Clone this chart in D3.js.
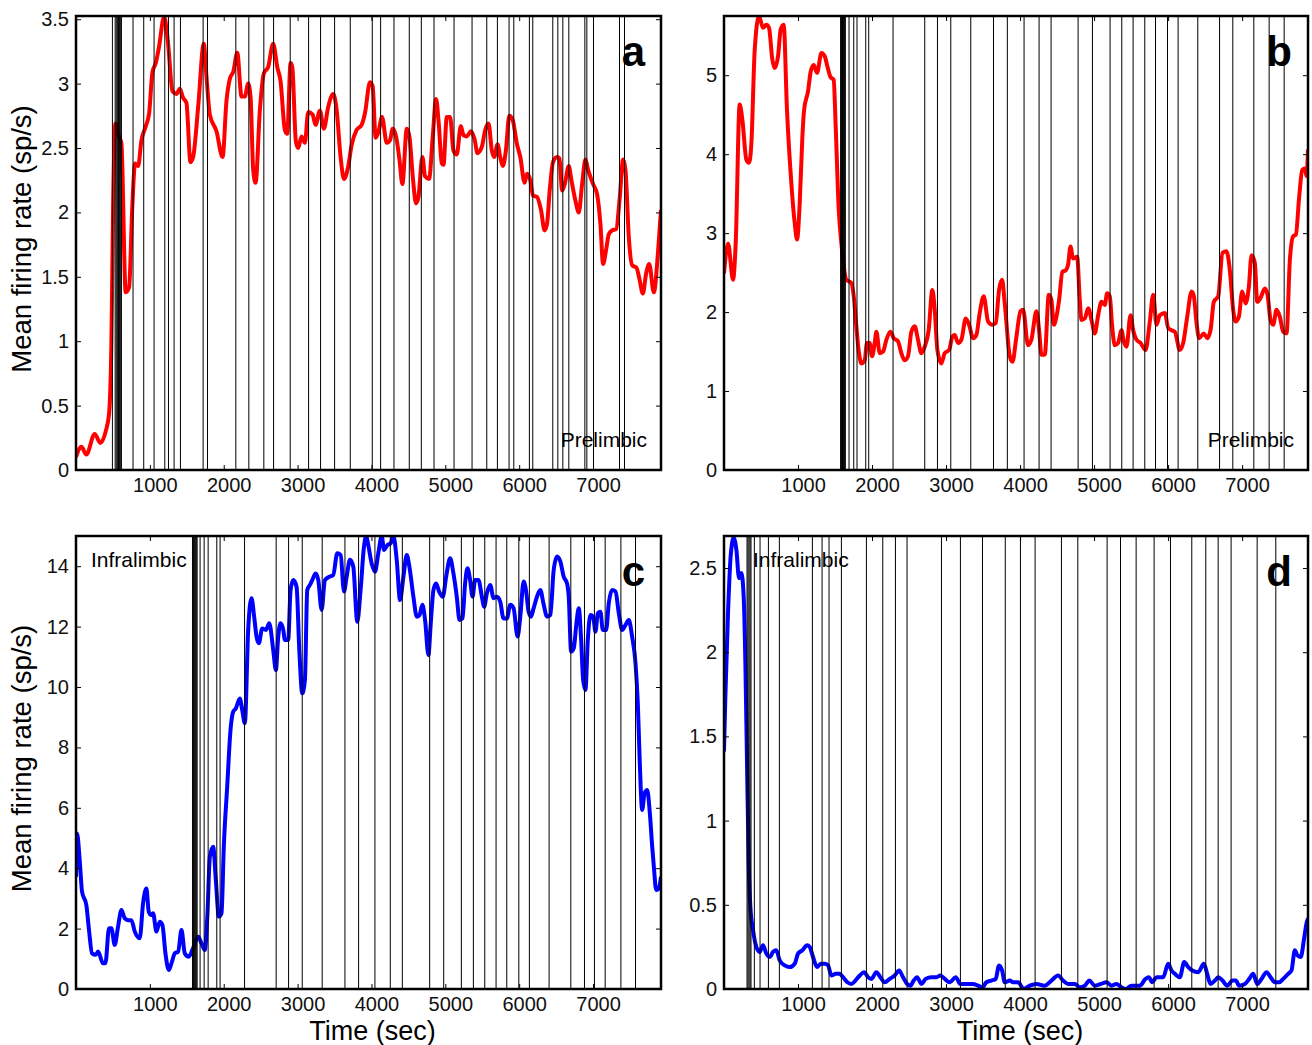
<!DOCTYPE html>
<html>
<head>
<meta charset="utf-8">
<script src="https://cdn.jsdelivr.net/npm/d3@7"></script>
<style>
  body { margin: 0; background: #fff; }
  svg { font-family: "Liberation Sans", Arial, Helvetica, sans-serif; }
</style>
</head>
<body>
<svg id="chart" width="1312" height="1045"></svg>
<script>
// ---- data: [time (sec), mean firing rate (sp/s)] ----
const rateA = [[0,0.10],[73,0.18],[140,0.12],[253,0.28],[330,0.21],[402,0.30],[448,0.44],[479,0.98],[502,2.02],[534,2.69],[575,2.60],[614,2.54],[673,1.38],[719,1.42],[764,2.07],[800,2.38],[841,2.36],[886,2.56],[945,2.67],[990,2.77],[1035,3.09],[1080,3.16],[1125,3.29],[1193,3.52],[1247,3.31],[1306,2.94],[1360,2.92],[1405,2.96],[1450,2.89],[1495,2.85],[1550,2.39],[1586,2.43],[1654,2.82],[1730,3.31],[1767,3.05],[1812,2.76],[1902,2.63],[1984,2.43],[2038,2.87],[2084,3.04],[2128,3.09],[2183,3.24],[2241,2.90],[2286,2.90],[2331,3.00],[2363,2.90],[2399,2.33],[2431,2.23],[2490,2.80],[2543,3.08],[2602,3.13],[2670,3.31],[2724,3.13],[2769,3.02],[2828,2.64],[2860,2.61],[2905,3.16],[2928,3.13],[2977,2.55],[3009,2.50],[3054,2.59],[3099,2.54],[3144,2.78],[3203,2.76],[3243,2.68],[3302,2.79],[3356,2.65],[3415,2.82],[3483,2.92],[3528,2.80],[3582,2.43],[3628,2.26],[3686,2.36],[3731,2.52],[3799,2.64],[3867,2.68],[3912,2.77],[3980,3.01],[4016,2.98],[4057,2.58],[4093,2.62],[4143,2.74],[4207,2.54],[4251,2.56],[4288,2.65],[4333,2.59],[4379,2.41],[4419,2.22],[4478,2.65],[4514,2.59],[4559,2.28],[4604,2.07],[4636,2.12],[4690,2.43],[4726,2.28],[4780,2.26],[4830,2.59],[4875,2.88],[4911,2.69],[4952,2.38],[4975,2.37],[5020,2.74],[5065,2.74],[5110,2.48],[5155,2.45],[5210,2.67],[5246,2.60],[5291,2.59],[5345,2.63],[5395,2.57],[5436,2.46],[5495,2.51],[5540,2.64],[5585,2.69],[5630,2.48],[5662,2.43],[5707,2.53],[5743,2.43],[5779,2.36],[5820,2.48],[5866,2.75],[5911,2.72],[5970,2.53],[6015,2.43],[6074,2.23],[6105,2.30],[6151,2.25],[6187,2.13],[6241,2.12],[6295,2.02],[6345,1.86],[6377,1.91],[6413,2.17],[6458,2.39],[6513,2.43],[6545,2.42],[6581,2.17],[6617,2.22],[6671,2.36],[6707,2.25],[6762,2.09],[6807,2.00],[6852,2.22],[6897,2.41],[6933,2.33],[7001,2.22],[7055,2.14],[7100,1.91],[7136,1.60],[7177,1.71],[7213,1.83],[7258,1.86],[7313,1.87],[7362,2.12],[7407,2.41],[7439,2.33],[7484,1.81],[7529,1.59],[7588,1.57],[7629,1.48],[7674,1.37],[7720,1.53],[7760,1.60],[7823,1.38],[7882,1.71],[7920,2.02]];

const rateB = [[0,2.49],[55,2.87],[122,2.41],[158,2.87],[212,4.63],[248,4.44],[302,3.93],[338,3.89],[370,4.14],[415,5.32],[473,5.75],[527,5.60],[572,5.64],[608,5.60],[653,5.20],[685,5.09],[730,5.24],[766,5.58],[806,5.64],[851,4.56],[910,3.63],[955,3.13],[987,2.92],[1023,3.38],[1059,4.22],[1082,4.56],[1136,4.80],[1172,5.05],[1212,5.13],[1257,5.03],[1316,5.28],[1361,5.24],[1397,5.11],[1437,4.98],[1482,4.94],[1509,4.35],[1550,3.30],[1586,2.87],[1653,2.41],[1721,2.37],[1753,2.20],[1788,1.82],[1824,1.48],[1856,1.35],[1901,1.39],[1932,1.61],[1968,1.61],[2000,1.44],[2036,1.61],[2059,1.75],[2104,1.48],[2149,1.50],[2194,1.65],[2248,1.75],[2293,1.67],[2351,1.63],[2396,1.48],[2441,1.39],[2486,1.44],[2531,1.75],[2576,1.82],[2621,1.65],[2666,1.48],[2711,1.56],[2765,1.77],[2815,2.28],[2847,2.03],[2883,1.52],[2937,1.35],[2982,1.48],[3041,1.52],[3086,1.69],[3117,1.71],[3162,1.61],[3207,1.65],[3266,1.92],[3311,1.84],[3365,1.67],[3410,1.71],[3455,1.99],[3509,2.20],[3568,1.88],[3626,1.84],[3671,1.86],[3716,2.28],[3757,2.41],[3793,2.11],[3861,1.44],[3897,1.37],[3951,1.69],[4005,2.01],[4041,2.03],[4108,1.58],[4153,1.65],[4221,2.01],[4257,1.77],[4289,1.46],[4334,1.46],[4388,2.22],[4424,2.15],[4455,1.84],[4491,1.94],[4527,2.15],[4572,2.51],[4618,2.53],[4649,2.60],[4681,2.83],[4717,2.68],[4771,2.70],[4807,2.15],[4830,1.90],[4875,1.92],[4920,2.05],[4965,1.90],[5010,1.73],[5055,1.96],[5100,2.13],[5145,2.09],[5176,2.24],[5212,2.20],[5244,1.82],[5280,1.58],[5325,1.61],[5370,1.77],[5402,1.63],[5438,1.56],[5492,1.96],[5528,1.77],[5573,1.65],[5627,1.61],[5695,1.52],[5753,1.88],[5798,2.22],[5843,1.84],[5888,1.96],[5956,1.99],[6001,1.80],[6046,1.77],[6091,1.75],[6159,1.52],[6204,1.61],[6258,1.94],[6317,2.26],[6348,2.20],[6384,1.86],[6420,1.67],[6483,1.73],[6528,1.67],[6573,1.77],[6618,2.13],[6677,2.20],[6735,2.75],[6789,2.77],[6834,2.53],[6879,2.03],[6911,1.88],[6956,1.94],[7001,2.26],[7046,2.11],[7091,2.32],[7127,2.72],[7172,2.62],[7204,2.13],[7249,2.18],[7307,2.30],[7343,2.22],[7384,1.90],[7420,1.84],[7465,2.03],[7510,1.94],[7555,1.75],[7600,1.73],[7645,2.66],[7690,2.96],[7726,2.98],[7771,3.46],[7812,3.80],[7848,3.82],[7870,3.72],[7890,4.06]];

const rateC = [[0,3.72],[14,5.15],[50,4.27],[82,3.22],[140,2.78],[176,1.95],[217,1.18],[267,1.13],[298,1.24],[366,0.85],[398,0.85],[447,2.01],[479,2.01],[524,1.46],[569,2.06],[615,2.62],[660,2.34],[705,2.28],[750,2.28],[796,1.90],[863,1.68],[908,2.84],[953,3.33],[985,2.56],[1021,2.45],[1044,2.51],[1089,1.90],[1134,2.23],[1170,2.12],[1211,1.18],[1256,0.63],[1292,0.85],[1337,1.18],[1383,1.24],[1428,1.95],[1473,1.18],[1527,1.07],[1577,1.30],[1654,1.73],[1699,1.51],[1744,1.29],[1780,2.51],[1812,4.38],[1857,4.71],[1893,3.61],[1934,2.40],[1970,2.51],[2001,4.71],[2047,6.70],[2092,8.58],[2128,9.18],[2164,9.29],[2218,9.62],[2250,9.24],[2286,8.80],[2331,11.89],[2376,12.94],[2412,12.33],[2444,11.67],[2476,11.45],[2521,11.94],[2571,11.89],[2616,12.11],[2670,11.23],[2706,10.56],[2738,11.67],[2769,12.11],[2806,11.89],[2828,11.56],[2873,11.56],[2905,13.21],[2941,13.54],[2986,13.32],[3023,11.23],[3063,9.79],[3099,10.23],[3131,13.21],[3167,13.38],[3199,13.54],[3244,13.76],[3280,13.54],[3325,12.55],[3370,13.54],[3429,13.65],[3483,13.71],[3537,14.43],[3583,14.37],[3628,13.16],[3664,13.65],[3709,14.21],[3754,13.98],[3808,12.16],[3853,13.21],[3899,14.65],[3930,15.0],[3957,14.70],[4003,14.09],[4048,13.82],[4093,14.43],[4139,15.0],[4170,14.54],[4216,14.70],[4261,14.76],[4297,15.0],[4342,14.21],[4387,12.88],[4433,13.65],[4478,14.37],[4514,13.98],[4568,12.99],[4614,12.33],[4650,12.38],[4690,12.72],[4726,12.22],[4771,11.06],[4803,12.11],[4839,13.21],[4875,13.43],[4916,13.16],[4966,12.99],[5011,13.65],[5065,14.26],[5110,13.76],[5155,12.99],[5192,12.22],[5232,12.27],[5268,13.43],[5300,13.93],[5336,13.54],[5368,12.99],[5404,13.54],[5449,13.54],[5495,12.99],[5526,12.66],[5562,13.10],[5608,13.38],[5653,12.94],[5698,12.99],[5743,12.83],[5788,12.27],[5834,12.27],[5879,12.72],[5924,12.61],[5978,11.67],[6015,12.33],[6060,13.49],[6092,13.21],[6128,12.49],[6160,12.33],[6196,12.61],[6241,12.99],[6286,13.21],[6332,12.72],[6377,12.33],[6422,12.38],[6467,13.87],[6513,14.32],[6558,14.15],[6603,13.65],[6648,13.43],[6671,12.99],[6703,11.17],[6739,11.28],[6775,12.11],[6807,12.61],[6839,11.56],[6866,10.23],[6897,9.90],[6929,11.56],[6965,12.38],[7001,12.33],[7033,11.83],[7064,12.44],[7100,12.49],[7132,11.89],[7177,11.89],[7213,12.77],[7258,13.21],[7304,13.16],[7349,12.44],[7394,11.89],[7439,12.05],[7484,12.22],[7529,11.67],[7575,10.78],[7606,9.46],[7633,7.47],[7665,5.93],[7697,6.48],[7733,6.59],[7769,5.82],[7801,4.71],[7823,4.05],[7855,3.28],[7891,3.33],[7920,3.72]];

const rateD = [[0,1.41],[18,1.73],[54,2.23],[90,2.57],[131,2.68],[167,2.61],[203,2.44],[235,2.47],[266,2.33],[289,1.93],[311,1.34],[334,0.75],[356,0.49],[392,0.35],[437,0.25],[482,0.22],[527,0.26],[572,0.21],[617,0.19],[662,0.22],[707,0.23],[752,0.17],[820,0.14],[887,0.13],[955,0.15],[1000,0.21],[1059,0.23],[1122,0.26],[1158,0.25],[1203,0.19],[1257,0.13],[1307,0.15],[1361,0.15],[1406,0.14],[1451,0.08],[1509,0.09],[1563,0.09],[1608,0.07],[1667,0.04],[1721,0.03],[1775,0.05],[1834,0.08],[1892,0.10],[1946,0.07],[1991,0.06],[2059,0.10],[2113,0.07],[2171,0.04],[2239,0.06],[2306,0.08],[2365,0.11],[2419,0.07],[2473,0.03],[2518,0.02],[2563,0.05],[2608,0.07],[2667,0.03],[2725,0.06],[2802,0.07],[2869,0.07],[2923,0.08],[2982,0.06],[3050,0.04],[3131,0.07],[3194,0.03],[3275,0.03],[3365,0.03],[3432,0.02],[3491,0.01],[3545,0.04],[3613,0.05],[3671,0.06],[3716,0.14],[3757,0.11],[3793,0.04],[3860,0.05],[3906,0.04],[3973,0.04],[4050,0.00],[4131,0.02],[4221,0.03],[4334,0.02],[4424,0.05],[4514,0.08],[4582,0.05],[4649,0.03],[4739,0.03],[4807,0.01],[4875,0.02],[4934,0.05],[5010,0.02],[5091,0.03],[5167,0.04],[5235,0.02],[5302,0.03],[5370,0.01],[5429,0.00],[5505,0.02],[5618,0.02],[5695,0.06],[5740,0.07],[5785,0.04],[5843,0.07],[5933,0.07],[6001,0.15],[6046,0.11],[6091,0.09],[6159,0.07],[6217,0.16],[6272,0.13],[6326,0.11],[6407,0.10],[6483,0.15],[6528,0.09],[6573,0.03],[6632,0.05],[6677,0.07],[6735,0.05],[6798,0.02],[6870,0.05],[6915,0.05],[6960,0.02],[7037,0.03],[7096,0.06],[7150,0.09],[7204,0.03],[7262,0.06],[7330,0.10],[7384,0.07],[7443,0.04],[7501,0.04],[7555,0.06],[7622,0.09],[7667,0.11],[7712,0.23],[7748,0.20],[7793,0.19],[7834,0.29],[7870,0.39],[7890,0.42]];

// event times (sec) drawn as vertical lines
const eventsA = [493,530,545,560,575,590,605,615,772,917,1057,1202,1252,1328,1414,1721,1780,2164,2340,2543,2675,2900,3149,3311,3501,3713,4011,4124,4305,4512,4675,4847,5118,5362,5561,5705,5863,5927,6138,6184,6455,6523,6591,6672,6889,6916,7006,7358,7426];
const eventsB = [1575,1588,1601,1614,1627,1640,1689,1753,1797,1915,1955,2284,2712,2884,3064,3334,3641,3828,4054,4257,4419,4784,4978,5216,5374,5527,5685,5830,5992,6135,6401,6695,6874,7158,7365,7568];
const eventsC = [1577,1590,1603,1616,1629,1640,1680,1735,1789,1906,1951,2282,2710,2878,3063,3333,3641,3826,4047,4255,4418,4788,4978,5217,5380,5534,5687,5832,5995,6138,6405,6699,6884,7019,7164,7377,7575];
const eventsD = [311,324,338,352,365,410,487,600,748,1194,1325,1419,1586,1924,2145,2316,2473,2938,3194,3492,3800,4005,4203,4559,4780,5176,5357,5568,5811,6032,6320,6509,6676,6851,7203,7455];

// tick values
const xTicks = [1000, 2000, 3000, 4000, 5000, 6000, 7000];
const yTicksA = [0, 0.5, 1, 1.5, 2, 2.5, 3, 3.5];
const yTicksB = [0, 1, 2, 3, 4, 5];
const yTicksC = [0, 2, 4, 6, 8, 10, 12, 14];
const yTicksD = [0, 0.5, 1, 1.5, 2, 2.5];

// panel texts
const panelLetters = ["a", "b", "c", "d"];
const regionNames = ["Prelimbic", "Prelimbic", "Infralimbic", "Infralimbic"];
const yLabel = "Mean firing rate (sp/s)";
const xLabel = "Time (sec)";

function getConfig() {
  // layout of the four panels (pixels)
  let panels = [
    {left: 76,  top: 16,  width: 585, height: 454, xMax: 7920, yMax: 3.525, data: rateA, events: eventsA, yTicks: yTicksA, color: "#ff0000", regionAt: "bottomRight", ylab: true,  xlab: false},
    {left: 724, top: 16,  width: 584, height: 454, xMax: 7890, yMax: 5.75,  data: rateB, events: eventsB, yTicks: yTicksB, color: "#ff0000", regionAt: "bottomRight", ylab: false, xlab: false},
    {left: 76,  top: 536, width: 585, height: 453, xMax: 7920, yMax: 15,    data: rateC, events: eventsC, yTicks: yTicksC, color: "#0000ff", regionAt: "topLeft", regionDx: 15, ylab: true,  xlab: true},
    {left: 724, top: 536, width: 584, height: 453, xMax: 7890, yMax: 2.69,  data: rateD, events: eventsD, yTicks: yTicksD, color: "#0000ff", regionAt: "topLeft", regionDx: 29, ylab: false, xlab: true}
  ];
  let svg = d3.select("#chart");
  return {panels, svg};
}

function getScales(p) {
  let xScale = d3.scaleLinear().domain([0, p.xMax]).range([0, p.width]);
  let yScale = d3.scaleLinear().domain([0, p.yMax]).range([p.height, 0]);
  return {xScale, yScale};
}

function drawPanel(svg, p, i) {
  let {xScale, yScale} = getScales(p);
  let g = svg.append("g").attr("transform", "translate(" + p.left + "," + p.top + ")");

  // clip so the trace stays inside the frame
  g.append("clipPath").attr("id", "clip" + i)
    .append("rect").attr("width", p.width).attr("height", p.height);

  let line = d3.line()
    .x(d => xScale(d[0]))
    .y(d => yScale(d[1]))
    .curve(d3.curveMonotoneX);

  g.append("path")
    .datum(p.data)
    .attr("clip-path", "url(#clip" + i + ")")
    .attr("fill", "none")
    .attr("stroke", p.color)
    .attr("stroke-width", 4)
    .attr("stroke-linejoin", "round")
    .attr("d", line);

  // event markers on top of the trace
  g.selectAll(".event")
    .data(p.events)
    .enter()
    .append("line")
      .attr("class", "event")
      .attr("x1", d => xScale(d))
      .attr("x2", d => xScale(d))
      .attr("y1", 0)
      .attr("y2", p.height)
      .attr("stroke", "#000")
      .attr("stroke-width", 1);

  // axes: inward ticks on all four sides
  let fmt = d3.format("~g");
  let bottom = g.append("g")
    .attr("transform", "translate(0," + p.height + ")")
    .call(d3.axisBottom(xScale).tickValues(xTicks).tickSize(-5).tickPadding(8).tickFormat(fmt));
  bottom.selectAll("text").attr("dx", 5);
  g.append("g")
    .call(d3.axisTop(xScale).tickValues(xTicks).tickSize(-5).tickFormat(""));
  g.append("g")
    .call(d3.axisLeft(yScale).tickValues(p.yTicks).tickSize(-5).tickPadding(7).tickFormat(fmt));
  g.append("g")
    .attr("transform", "translate(" + p.width + ",0)")
    .call(d3.axisRight(yScale).tickValues(p.yTicks).tickSize(-5).tickFormat(""));

  g.selectAll(".domain").remove();
  g.selectAll(".tick line").attr("stroke", "#000").attr("stroke-width", 1);
  g.selectAll(".tick text")
    .attr("fill", "#111")
    .style("font-size", "20px")
    .style("font-family", "'Liberation Sans', Arial, sans-serif");

  // frame
  g.append("rect")
    .attr("width", p.width)
    .attr("height", p.height)
    .attr("fill", "none")
    .attr("stroke", "#000")
    .attr("stroke-width", 2.5);

  // panel letter
  g.append("text")
    .attr("x", p.width - 16)
    .attr("y", 50)
    .attr("text-anchor", "end")
    .style("font-size", "42px")
    .style("font-weight", "bold")
    .text(panelLetters[i]);

  // brain region
  if (p.regionAt == "bottomRight") {
    g.append("text")
      .attr("x", p.width - 14)
      .attr("y", p.height - 23)
      .attr("text-anchor", "end")
      .style("font-size", "21px")
      .text(regionNames[i]);
  } else {
    g.append("text")
      .attr("x", p.regionDx)
      .attr("y", 31)
      .style("font-size", "21px")
      .text(regionNames[i]);
  }

  if (p.ylab) {
    g.append("text")
      .attr("transform", "translate(" + (31 - p.left) + "," + (p.height / 2 - 4) + ")rotate(-90)")
      .attr("text-anchor", "middle")
      .style("font-size", "27.5px")
      .text(yLabel);
  }
  if (p.xlab) {
    g.append("text")
      .attr("x", p.width / 2 + 4)
      .attr("y", p.height + 51)
      .attr("text-anchor", "middle")
      .style("font-size", "27px")
      .text(xLabel);
  }
}

function drawChart() {
  let {panels, svg} = getConfig();
  panels.forEach((p, i) => drawPanel(svg, p, i));
}

drawChart();
</script>
</body>
</html>
